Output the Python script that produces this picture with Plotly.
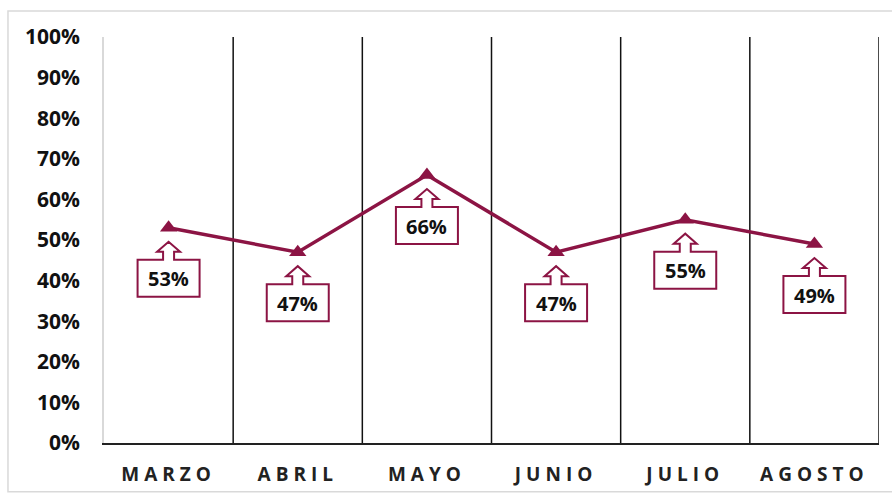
import plotly.graph_objects as go

months = ["MARZO", "ABRIL", "MAYO", "JUNIO", "JULIO", "AGOSTO"]
values = [0.53, 0.47, 0.66, 0.47, 0.55, 0.49]
y_ticks = [i / 10 for i in range(11)]

MAROON = "#8C1444"
FONT = "Open Sans"

fig = go.Figure()
fig.add_trace(go.Scatter(
    x=months, y=values, mode="lines+markers",
    line=dict(color=MAROON, width=3.5),
    marker=dict(symbol="triangle-up", size=15, color=MAROON),
    hoverinfo="skip", showlegend=False,
))

shapes = []
# category separators
for i in range(1, len(months) + 1):
    shapes.append(dict(type="line", xref="x", yref="y", x0=i - 0.5, x1=i - 0.5,
                       y0=0, y1=1, line=dict(color="#111111", width=1.5), layer="below"))

# callout (up-arrow box) path in pixel offsets relative to the data point
callout = ("M-31,-32 L-5.5,-32 L-5.5,-24 L-11.5,-24 L0,-14 L11.5,-24 L5.5,-24 "
           "L5.5,-32 L31,-32 L31,-69 L-31,-69 Z")
annotations = []
for m, v in zip(months, values):
    shapes.append(dict(type="path", xref="x", yref="y", xsizemode="pixel", ysizemode="pixel",
                       xanchor=m, yanchor=v, path=callout,
                       line=dict(color=MAROON, width=2), fillcolor="white", layer="above"))
    annotations.append(dict(x=m, y=v, xref="x", yref="y", text=f"{round(v*100)}%",
                            showarrow=False, yshift=-51,
                            font=dict(family=FONT, size=20, color="#111111", weight="bold")))

# outer light border
shapes.append(dict(type="rect", xref="paper", yref="paper", x0=-0.1239, x1=1.1, y0=-0.12, y1=1.064,
                   line=dict(color="#D9D9D9", width=1.5), fillcolor="rgba(0,0,0,0)", layer="below"))

fig.update_layout(
    width=892, height=496, autosize=False,
    margin=dict(l=104, r=13, t=37, b=53, autoexpand=False),
    paper_bgcolor="white", plot_bgcolor="white",
    shapes=shapes, annotations=annotations,
    font=dict(family=FONT, color="#111111"),
    xaxis=dict(
        type="category", range=[-0.5, len(months) - 0.5], automargin=False,
        showgrid=False, zeroline=False,
        showline=True, linecolor="#222222", linewidth=1.5,
        tickfont=dict(family=FONT, size=19, color="#222222", weight="bold"),
        ticks="", ticklabelstandoff=13,
    ),
    yaxis=dict(
        range=[0, 1], tickvals=y_ticks, tickformat=".0%", automargin=False,
        showgrid=False, zeroline=False,
        showline=True, linecolor="#D9D9D9", linewidth=1.5,
        tickfont=dict(family=FONT, size=21, color="#111111", weight="bold"),
        ticks="", ticklabelstandoff=18,
    ),
)

post = """
var s = document.createElement('style');
s.innerHTML = 'html, body { margin: 0 !important; padding: 0 !important; overflow: hidden; } .xtick text { letter-spacing: 5px; }';
document.head.appendChild(s);
"""
fig.write_html("out.html", post_script=post, config={"displayModeBar": False, "responsive": False})
